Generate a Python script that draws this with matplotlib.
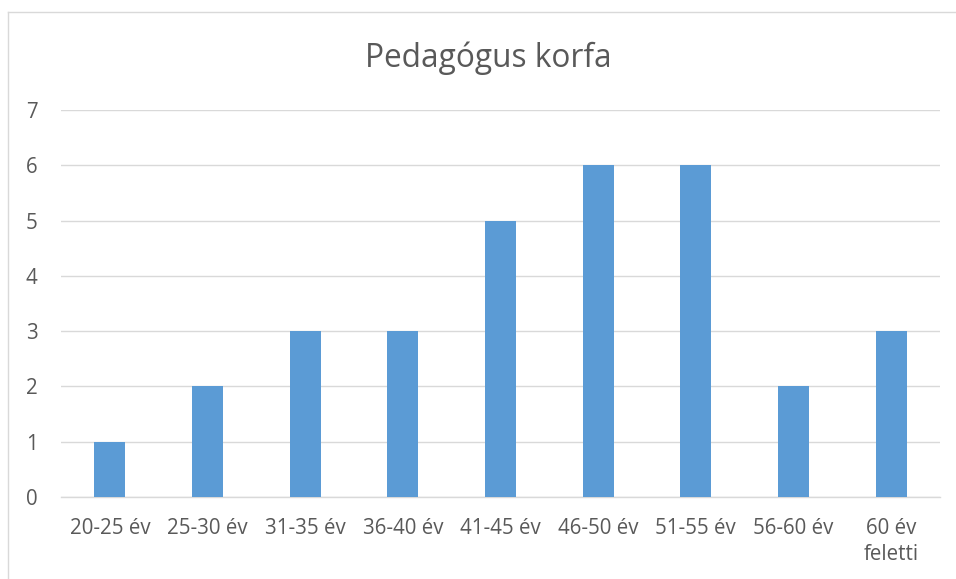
import matplotlib.pyplot as plt
from matplotlib.lines import Line2D

# Chart data
categories = ['20-25 év', '25-30 év', '31-35 év', '36-40 év', '41-45 év',
              '46-50 év', '51-55 év', '56-60 év', '60 év\nfeletti']
counts = [1, 2, 3, 3, 5, 6, 6, 2, 3]
y_ticks = [0, 1, 2, 3, 4, 5, 6, 7]

text_color = '#595959'
grid_color = '#D9D9D9'
bar_color = '#5B9BD5'

plt.rcParams['font.family'] = ['Open Sans', 'DejaVu Sans']

W, H = 956, 579
fig = plt.figure(figsize=(W / 100, H / 100), dpi=100)
ax = fig.add_axes([61 / W, 1 - 497 / H, (940 - 61) / W, (497 - 110) / H])

x = list(range(len(categories)))
ax.bar(x, counts, width=0.32, color=bar_color, zorder=3)

ax.set_xlim(-0.5, len(categories) - 0.5)
ax.set_ylim(0, 7)
ax.set_yticks(y_ticks)
ax.set_xticks(x)
ax.set_xticklabels(categories, linespacing=1.3)

# gridlines
ax.grid(axis='y', color=grid_color, linewidth=1, zorder=0)
for side in ['top', 'right', 'left']:
    ax.spines[side].set_visible(False)
ax.spines['bottom'].set_color(grid_color)
ax.spines['bottom'].set_linewidth(1)

ax.tick_params(axis='both', length=0, labelsize=14.8, colors=text_color)
ax.tick_params(axis='y', pad=17)
ax.tick_params(axis='x', pad=15)

fig.text(488 / W, 1 - 58 / H, 'Pedagógus korfa', ha='center', va='center',
         fontsize=22.8, color=text_color)

# chart border (only left and top fall inside the picture)
fig.add_artist(Line2D([8 / W, 8 / W], [0, 1 - 12 / H], color=grid_color, lw=1))
fig.add_artist(Line2D([8 / W, 1], [1 - 12 / H, 1 - 12 / H], color=grid_color, lw=1))

fig.savefig('out.png', dpi=100, facecolor='white')
